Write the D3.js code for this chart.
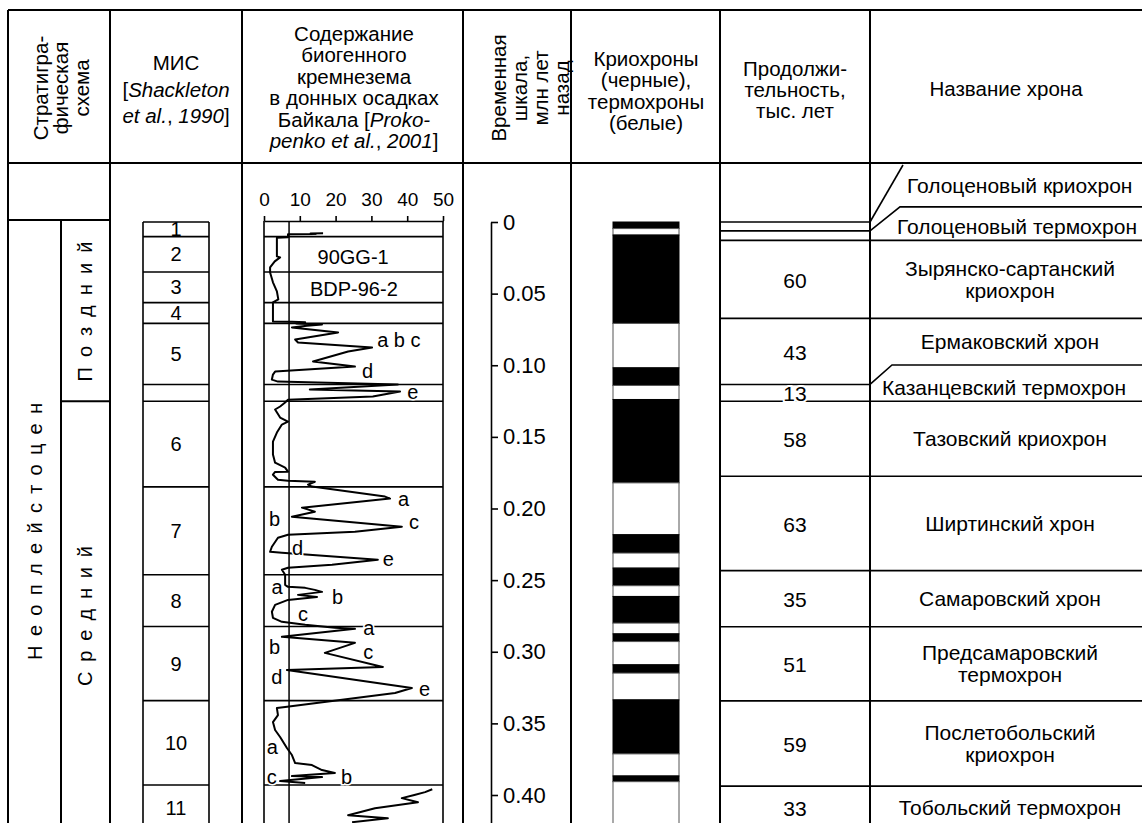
<!DOCTYPE html>
<html>
<head>
<meta charset="utf-8">
<script src="https://cdn.jsdelivr.net/npm/d3@7"></script>
<style>
  body { margin: 0; background: #fff; }
  svg text { font-family: "Liberation Sans", Arial, Helvetica, sans-serif; fill: #000; }
</style>
</head>
<body>
<div id="chart"></div>
<script>
// ---- data ----
const headerStrat = ['Стратигра-', 'фическая', 'схема']
const headerMis = ['МИС', '[*Shackleton*', '*et al.*, *1990*]']
const headerSilica = ['Содержание', 'биогенного', 'кремнезема', 'в донных осадках', 'Байкала [*Proko-*', '*penko et al.*, *2001*]']
const headerTime = ['Временная', 'шкала,', 'млн лет', 'назад']
const headerCryo = ['Криохроны', '(черные),', 'термохроны', '(белые)']
const headerDur = ['Продолжи-', 'тельность,', 'тыс. лет']
const headerName = ['Название хрона']

const stratSystem = ['Неоплейстоцен', 0, 0.432]
const stratParts = [['Поздний', 0, 0.1251], ['Средний', 0.1251, 0.425]]

const misLabels = ['1', '2', '3', '4', '5', '', '6', '7', '8', '9', '10', '11']
const misBounds = [0, 0.0102, 0.0349, 0.0563, 0.0708, 0.1134, 0.1251, 0.1849, 0.2462, 0.2824, 0.3341, 0.3930, 0.425]

const silicaTicks = [0, 10, 20, 30, 40, 50]
const silicaRef = 7
// [age, Ma ; biogenic silica, %]; null marks a gap in the record
const silicaCurve = [
  [0.0078, 16.5], [0.0080, 13], [0.0083, 14.5], [0.0086, 6.7], [0.0107, 6.7], [0.0110, 3.6],
  [0.0240, 3.6], [0.0247, 4.5], [0.0275, 3.0], [0.0317, 1.7], [0.0352, 1.7], [0.0421, 2.5],
  [0.0484, 3.6], [0.0540, 4.0], [0.0561, 2.5], [0.0694, 2.5], [0.0697, 7.8], [0.0700, 11.5],
  [0.0708, 9], [0.0715, 16.2], [0.0725, 12], [0.0736, 7.8], [0.0771, 20.7], [0.0820, 8.7],
  [0.0841, 9.5], [0.0876, 30.2], [0.0904, 23.5], [0.0974, 13.7], [0.1009, 25.4], [0.1044, 3.1],
  [0.1065, 2.5], [0.1100, 2.2], [0.1114, 3.9], [0.1135, 37.4], [0.1169, 12.8], [0.1183, 38],
  [0.1218, 30.4], [0.1240, 6.7], [0.1260, 5.9], [0.1288, 4.5], [0.1309, 3.1], [0.1365, 4.5],
  [0.1393, 6.7], [0.1414, 5], [0.1470, 3.6], [0.1533, 2.5], [0.1623, 2.5], [0.1680, 3.1],
  [0.1715, 5.9], [0.1743, 6.7], [0.1745, 3.1], [0.1764, 2.5], [0.1799, 3.9], [0.1806, 6.7],
  [0.1813, 14.2], [0.1833, 12.3], [0.1847, 13.4], [0.1917, 33.8], [0.1931, 35.2], [0.1994, 10.6],
  [0.2022, 14.2], [0.2057, 7.8], [0.2127, 38.5], [0.2162, 25.4], [0.2183, 6.7], [0.2204, 3.9],
  [0.2267, 2.2], [0.2302, 1.7], [0.2309, 5], [0.2358, 31.8], [0.2393, 19], [0.2414, 6.7],
  [0.2428, 5], [0.2463, 5.9], [0.2533, 5.9], [0.2547, 6.7], [0.2554, 11.5], [0.2568, 14.2],
  [0.2582, 16.2], [0.2603, 9.5], [0.2617, 14.8], [0.2638, 6.7], [0.2673, 3.1], [0.2721, 2.2],
  [0.2763, 2.5], [0.2791, 5], [0.2812, 11.5], [0.2833, 19.8], [0.2840, 25.4], [0.2896, 5],
  [0.2938, 25.4], [0.3008, 17], [0.3106, 33.2], [0.3127, 6.4], [0.3253, 41.3], [0.3288, 36.6],
  [0.3386, 5.9], [0.3393, 3.6], [0.3442, 3.9], [0.3491, 2.5], [0.3546, 3.1], [0.3595, 4.5],
  [0.3672, 6.4], [0.3721, 7.8], [0.3777, 8.7], [0.3791, 13.4], [0.3826, 16.2], [0.3847, 19.8],
  [0.3868, 7.8], [0.3875, 16.2], [0.3903, 4.5], [0.3917, 11.5], [0.3940, null],
  [0.3960, 47], [0.3980, 45], [0.4000, 42], [0.4022, 38.5],
  [0.4050, 43], [0.4092, 31], [0.4141, 23.5], [0.4162, 34.6], [0.4190, 24.6]
]
const coreLabels = [['90GG-1', 0.0244, 24.9], ['BDP-96-2', 0.0468, 25.1]]
const peakLabels = [
  ['a b c', 0.0824, 31.6], ['d', 0.1040, 27.4], ['e', 0.1187, 40],
  ['a', 0.1932, 37.4], ['b', 0.2073, 1.4], ['c', 0.2094, 40.5], ['d', 0.2276, 7.8], ['e', 0.2352, 33.2],
  ['a', 0.2548, 2.1], ['b', 0.2618, 19], ['c', 0.2736, 9.5],
  ['a', 0.2834, 27.7], ['b', 0.2967, 1.4], ['c', 0.3002, 27.7], ['d', 0.3176, 2.0], ['e', 0.3260, 43.3],
  ['a', 0.3665, 0.8], ['c', 0.3876, 0.8], ['b', 0.3876, 21.5]
]

const timeTicks = [0, 0.05, 0.10, 0.15, 0.20, 0.25, 0.30, 0.35, 0.40]

// c = cryochron (black), t = thermochron (white)
const cryoBands = [
  [0, 0.0046, 'c'], [0.0046, 0.0091, 't'], [0.0091, 0.0708, 'c'], [0.0708, 0.1018, 't'],
  [0.1018, 0.1141, 'c'], [0.1141, 0.1239, 't'], [0.1239, 0.1821, 'c'], [0.1821, 0.2183, 't'],
  [0.2183, 0.2311, 'c'], [0.2311, 0.2416, 't'], [0.2416, 0.2539, 'c'], [0.2539, 0.2614, 't'],
  [0.2614, 0.2800, 'c'], [0.2800, 0.2875, 't'], [0.2875, 0.2929, 'c'], [0.2929, 0.3091, 't'],
  [0.3091, 0.3149, 'c'], [0.3149, 0.3336, 't'], [0.3336, 0.3713, 'c'], [0.3713, 0.3867, 't'],
  [0.3867, 0.3907, 'c'], [0.3907, 0.43, 't']
]

const chronNames = [
  ['Голоценовый криохрон'], ['Голоценовый термохрон'], ['Зырянско-сартанский', 'криохрон'],
  ['Ермаковский хрон'], ['Казанцевский термохрон'], ['Тазовский криохрон'], ['Ширтинский хрон'],
  ['Самаровский хрон'], ['Предсамаровский', 'термохрон'], ['Послетобольский', 'криохрон'],
  ['Тобольский термохрон']
]
const chronDurations = ['', '', '60', '43', '13', '58', '63', '35', '51', '59', '33']
const chronBounds = [0, 0.0062, 0.0128, 0.0673, 0.1134, 0.1251, 0.1775, 0.2434, 0.2826, 0.3343, 0.3938, 0.424]
const chronCallouts = [0, 1, 4] // rows whose names sit on a leader line

// ---- drawing ----
const W = 1142, H = 823
const tableTop = 10, headBottom = 163
const cols = [8, 110, 242, 463, 571, 720, 870]
const fs = 20        // header, MIS, plot labels
const fsName = 21    // chron names + durations

const svg = d3.select('#chart').append('svg')
  .attr('width', W).attr('height', H)
  .style('display', 'block')

const y = d3.scaleLinear().domain([0, 0.4]).range([222, 795])
const x = d3.scaleLinear().domain([0, 50]).range([264, 443])

function hline(x1, x2, yy, w = 1.6) {
  svg.append('line').attr('x1', x1).attr('x2', x2).attr('y1', yy).attr('y2', yy)
    .attr('stroke', '#000').attr('stroke-width', w)
}
function vline(xx, y1, y2, w = 1.6) {
  svg.append('line').attr('x1', xx).attr('x2', xx).attr('y1', y1).attr('y2', y2)
    .attr('stroke', '#000').attr('stroke-width', w)
}

// text with *italic* segments
function addSegments(t, str) {
  str.split('*').forEach((s, i) => {
    if (!s) return
    t.append('tspan').text(s).style('font-style', i % 2 ? 'italic' : 'normal')
  })
}

function block(lines, cx, cy, gap, rotated) {
  const g = svg.append('g')
    .attr('transform', `translate(${cx},${cy})` + (rotated ? ' rotate(-90)' : ''))
  lines.forEach((l, i) => {
    const t = g.append('text')
      .attr('x', 0)
      .attr('y', (i - (lines.length - 1) / 2) * gap)
      .attr('text-anchor', 'middle')
      .attr('dominant-baseline', 'central')
      .style('font-size', '20.5px')
    addSegments(t, l)
  })
}

// table frame
hline(cols[0], W, tableTop, 2)
hline(cols[0], W, headBottom, 2)
cols.forEach(c => vline(c, tableTop, H, 2))

// headers
block(headerStrat, 60, 88, 20.5, true)
block(headerMis, 176, 88.5, 26.5, false)
block(headerSilica, 354, 86.5, 21.4, false)
block(headerTime, 529.5, 88, 21, true)
block(headerCryo, 646, 90, 21.5, false)
block(headerDur, 795, 89, 21, false)
block(headerName, 1006, 88, 21, false)

// stratigraphy column
const stratMid = 61
hline(cols[0], cols[1], y(0) - 2, 2)
vline(stratMid, y(0) - 2, H, 2)
hline(stratMid, cols[1], y(stratParts[0][2]), 2)

function spaced(label, cx, a0, a1, len) {
  svg.append('text')
    .attr('transform', `translate(${cx},${(y(a0) + y(a1)) / 2}) rotate(-90)`)
    .attr('text-anchor', 'middle')
    .attr('dominant-baseline', 'central')
    .attr('textLength', len)
    .attr('lengthAdjust', 'spacing')
    .style('font-size', fs + 'px')
    .text(label)
}
spaced(stratSystem[0], 35, stratSystem[1], stratSystem[2], 257)
stratParts.forEach(p => spaced(p[0], 85, p[1], p[2], 140))

// MIS column
const misX0 = 143, misX1 = 209
vline(misX0, y(0), H)
vline(misX1, y(0), H)
misBounds.slice(0, -1).forEach(b => hline(misX0, misX1, y(b)))
misLabels.forEach((l, i) => {
  if (!l) return
  svg.append('text')
    .attr('x', (misX0 + misX1) / 2)
    .attr('y', (y(misBounds[i]) + y(misBounds[i + 1])) / 2)
    .attr('text-anchor', 'middle')
    .attr('dominant-baseline', 'central')
    .style('font-size', fs + 'px')
    .text(l)
})

// silica plot
svg.append('g')
  .attr('transform', `translate(0,${y(0) - 1})`)
  .call(d3.axisTop(x).tickValues(silicaTicks).tickSize(5).tickSizeOuter(0).tickPadding(10))
  .call(g => g.selectAll('path,line').attr('stroke', '#000').attr('stroke-width', 1.6))
  .call(g => g.selectAll('text').style('font-size', '19px')
    .style('font-family', '"Liberation Sans", Arial, sans-serif'))
vline(x(0), y(0) - 1, H)
vline(x(50), y(0) - 1, H)
misBounds.slice(1, -1).forEach(b => hline(x(0), x(50), y(b)))
vline(x(silicaRef), y(0) - 1, H, 1.5)

svg.append('path')
  .datum(silicaCurve)
  .attr('fill', 'none')
  .attr('stroke', '#000')
  .attr('stroke-width', 2)
  .attr('stroke-linejoin', 'round')
  .attr('d', d3.line().defined(d => d[1] !== null).x(d => x(d[1])).y(d => y(d[0])))

coreLabels.forEach(d => {
  svg.append('text')
    .attr('x', x(d[2])).attr('y', y(d[1]))
    .attr('text-anchor', 'middle').attr('dominant-baseline', 'central')
    .style('font-size', fs + 'px')
    .text(d[0])
})
peakLabels.forEach(d => {
  svg.append('text')
    .attr('x', x(d[2])).attr('y', y(d[1]))
    .attr('dominant-baseline', 'central')
    .style('font-size', fs + 'px')
    .style('paint-order', 'stroke').style('stroke', '#fff').style('stroke-width', '3px')
    .text(d[0])
})

// time scale
svg.append('g')
  .attr('transform', 'translate(491,0)')
  .call(d3.axisRight(d3.scaleLinear().domain([0, (H - y(0)) / (y(0.4) - y(0)) * 0.4]).range([y(0), H]))
    .tickValues(timeTicks).tickSize(7).tickSizeOuter(0).tickPadding(5)
    .tickFormat(d => d === 0 ? '0' : d3.format('.2f')(d)))
  .call(g => g.selectAll('path,line').attr('stroke', '#000').attr('stroke-width', 1.6))
  .call(g => g.selectAll('text').style('font-size', '22px')
    .style('font-family', '"Liberation Sans", Arial, sans-serif'))

// cryochron / thermochron bars
const barX = 613, barW = 66
svg.append('g').selectAll('rect')
  .data(cryoBands)
  .join('rect')
  .attr('x', barX)
  .attr('y', d => y(d[0]))
  .attr('width', barW)
  .attr('height', d => y(d[1]) - y(d[0]))
  .attr('fill', d => d[2] === 'c' ? '#000' : '#fff')
  .attr('stroke', d => d[2] === 'c' ? '#000' : '#555')
  .attr('stroke-width', 1)

// duration + chron names
const dX0 = cols[5], dX1 = cols[6]
chronBounds.slice(0, -1).forEach((b, i) => {
  const yy = y(b)
  if (chronCallouts.includes(i)) hline(dX0, dX1, yy)
  else hline(dX0, W, yy)
})

// leader lines for the callout rows
function leader(pts) {
  svg.append('path').attr('d', d3.line()(pts))
    .attr('fill', 'none').attr('stroke', '#000').attr('stroke-width', 1.6)
}
const r0 = y(chronBounds[0]), r1 = y(chronBounds[1]), r4 = y(chronBounds[4])
leader([[dX1, r0], [dX1 + 33, headBottom + 2]])
leader([[dX1, r1], [dX1 + 30, r1 - 24], [W, r1 - 24]])
leader([[dX1, r4], [dX1 + 22, r4 - 19.5], [W, r4 - 19.5]])

const calloutPos = { 0: [dX1 + 37, headBottom + 22], 1: [dX1 + 27, r1 - 4], 4: [dX1 + 12, r4 + 3.5] }

chronNames.forEach((lines, i) => {
  const t0 = y(chronBounds[i]), t1 = y(chronBounds[i + 1])
  if (calloutPos[i]) {
    svg.append('text')
      .attr('x', calloutPos[i][0]).attr('y', calloutPos[i][1])
      .attr('dominant-baseline', 'central')
      .style('font-size', fsName + 'px')
      .text(lines[0])
  } else {
    // stop above the next row's leader line if it has one
    const bottom = chronCallouts.includes(i + 1) ? t1 - 19.5 : t1
    const cy = (t0 + bottom) / 2
    lines.forEach((l, k) => {
      svg.append('text')
        .attr('x', 1010)
        .attr('y', cy + (k - (lines.length - 1) / 2) * 22)
        .attr('text-anchor', 'middle')
        .attr('dominant-baseline', 'central')
        .style('font-size', fsName + 'px')
        .text(l)
    })
  }
  if (chronDurations[i]) {
    svg.append('text')
      .attr('x', (dX0 + dX1) / 2)
      .attr('y', (t0 + t1) / 2 + 1)
      .attr('text-anchor', 'middle')
      .attr('dominant-baseline', 'central')
      .style('font-size', fsName + 'px')
      .style('paint-order', 'stroke').style('stroke', '#fff').style('stroke-width', '4px')
      .text(chronDurations[i])
  }
})
</script>
</body>
</html>
